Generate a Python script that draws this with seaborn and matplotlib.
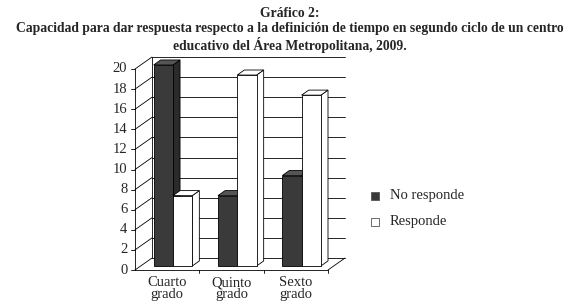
import numpy as np
import pandas as pd
import matplotlib
matplotlib.use("Agg")
import matplotlib.pyplot as plt
import seaborn as sns
from matplotlib.patches import Polygon, Rectangle

# Data
grados = ["Cuarto\ngrado", "Quinto\ngrado", "Sexto\ngrado"]
no_responde = [20, 7, 9]
responde = [7, 19, 17]
series = ["No responde", "Responde"]
yticks = list(range(0, 21, 2))

df = pd.DataFrame({
    "grado": grados * 2,
    "valor": no_responde + responde,
    "serie": [series[0]] * 3 + [series[1]] * 3,
})

sns.set_style("white")
plt.rcParams["font.family"] = ["Liberation Serif", "DejaVu Serif"]

fig = plt.figure(figsize=(5.8, 3.08), dpi=100)
ax = fig.add_axes([135 / 580, (308 - 270) / 308, 193 / 580, 201 / 308])

front_col = {"No responde": "#3a3a3a", "Responde": "#ffffff"}
sns.barplot(data=df, x="grado", y="valor", hue="serie", palette=front_col,
            width=0.6, edgecolor="black", linewidth=0.6, legend=False, ax=ax)

ax.set_xlim(-0.5, 2.5)
ax.set_ylim(0, 20)
for s in ax.spines.values():
    s.set_visible(False)
ax.set_xlabel("")
ax.set_ylabel("")
ax.set_xticks([])
ax.set_yticks([])

# depth offsets (x units, y units)
wall_dx, wall_dy = 0.264, 1.19
bar_dx, bar_dy = 0.09, 0.40
side_dx, side_dy = 0.11, 0.50

lk = dict(color="black", lw=0.6, clip_on=False, zorder=1)

# back wall grid + left wall diagonals
for v in yticks:
    ax.plot([-0.5 + wall_dx, 2.5 + wall_dx], [v + wall_dy, v + wall_dy], **lk)
    ax.plot([-0.5, -0.5 + wall_dx], [v, v + wall_dy], **lk)
    ax.plot([-0.56, -0.5], [v, v], **lk)
ax.plot([-0.5 + wall_dx] * 2, [wall_dy, 20 + wall_dy], **lk)
ax.plot([-0.5, -0.5], [0, 20], **lk)
# floor
ax.plot([-0.5, 2.5], [0, 0], **lk)
ax.plot([2.5, 2.5 + wall_dx], [0, wall_dy], **lk)
for b in [0.5, 1.5, 2.5]:
    ax.plot([b, b], [0, -0.3], **lk)

# 3D bars, drawn left to right so each front hides the previous side
side_col = {"#3a3a3a": "#2b2b2b", "#ffffff": "#ffffff"}
top_col = {"#3a3a3a": "#555555", "#ffffff": "#ffffff"}
bars = sorted([p for p in ax.patches if p.get_height() > 0], key=lambda p: p.get_x())
for k, p in enumerate(bars):
    x0, w, h = p.get_x(), p.get_width(), p.get_height()
    x0 += bar_dx
    y0 = bar_dy
    p.set_x(x0)
    p.set_y(y0)
    p.set_clip_on(False)
    z = 3 + k
    p.set_zorder(z + 0.5)
    fc = matplotlib.colors.to_hex(p.get_facecolor())
    x1, y1 = x0 + w, y0 + h
    side = Polygon([(x1, y0), (x1 + side_dx, y0 + side_dy),
                    (x1 + side_dx, y1 + side_dy), (x1, y1)],
                   facecolor=side_col.get(fc, fc), edgecolor="black", lw=0.6,
                   zorder=z, clip_on=False)
    top = Polygon([(x0, y1), (x0 + side_dx, y1 + side_dy),
                   (x1 + side_dx, y1 + side_dy), (x1, y1)],
                  facecolor=top_col.get(fc, fc), edgecolor="black", lw=0.6,
                  zorder=z, clip_on=False)
    ax.add_patch(side)
    ax.add_patch(top)

# tick labels
for v in yticks:
    ax.text(-0.62, v, str(v), ha="right", va="center", fontsize=10.5)
for i, g in enumerate(grados):
    ax.text(i, -0.6, g, ha="center", va="top", fontsize=10.5, linespacing=0.9)

# legend
for j, s in enumerate(series):
    y = 196 + j * 26
    fig.patches.append(Rectangle(
        (371 / 580, (308 - y - 4) / 308), 8 / 580, 8 / 308,
        facecolor=front_col[s], edgecolor="#555555", lw=0.6,
        transform=fig.transFigure, figure=fig))
    fig.text(390 / 580, (308 - y) / 308, s, ha="left", va="center", fontsize=10.5)

fig.text(0.5, 1 - 30 / 308,
         "Gráfico 2:\nCapacidad para dar respuesta respecto a la definición de tiempo en segundo ciclo de un centro\neducativo del Área Metropolitana, 2009.",
         ha="center", va="center", fontsize=9.8, fontweight="bold", linespacing=1.2)

fig.savefig("out.png", dpi=100)
